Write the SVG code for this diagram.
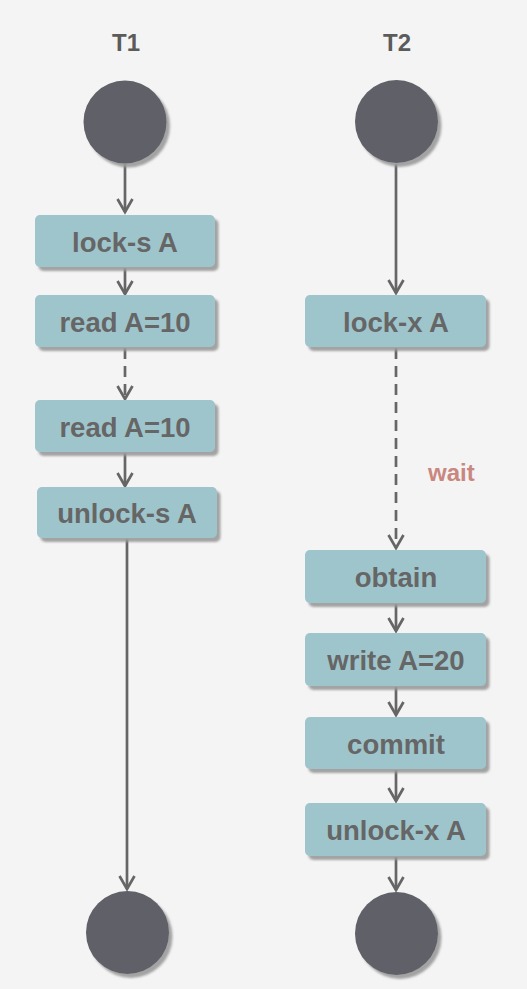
<svg xmlns="http://www.w3.org/2000/svg" width="527" height="989" viewBox="0 0 527 989">
<defs>
<style>
.title{font-family:"Liberation Sans",Arial,sans-serif;font-weight:bold;font-size:24px;fill:#5b5b5b;text-anchor:middle}
.box rect{fill:#9fc5cc;filter:url(#sh)}
.box text{font-family:"Liberation Sans",Arial,sans-serif;font-weight:bold;font-size:27.5px;fill:#666;text-anchor:middle}
.dot{fill:#5e6168;filter:url(#sh)}
.ln{stroke:#666;stroke-width:2.7;fill:none;marker-end:url(#arr)}
.dash{stroke-dasharray:11 7}
.lbl{font-family:"Liberation Sans",Arial,sans-serif;font-weight:bold;font-size:24px;fill:#c9877f}
</style>
<filter id="sh" x="-20%" y="-20%" width="140%" height="150%">
<feDropShadow dx="3.5" dy="4" stdDeviation="1.2" flood-color="#9a9a9a" flood-opacity="0.9"/>
</filter>
<marker id="arr" markerUnits="userSpaceOnUse" markerWidth="20" markerHeight="20" viewBox="-16 -10 20 20" refX="0" refY="0" orient="auto" overflow="visible">
<path d="M-13,-7.5 L0,0 L-13,7.5" fill="none" stroke="#666" stroke-width="2.7" stroke-linejoin="miter"/>
</marker>
</defs>
<rect width="527" height="989" fill="#f4f4f4"/>
<text class="title" x="126" y="51">T1</text>
<text class="title" x="397" y="51">T2</text>
<g id="connectors">
<line class="ln" x1="125" y1="164" x2="125" y2="212"/>
<line class="ln" x1="125" y1="268" x2="125" y2="294"/>
<line class="ln dash" x1="125" y1="348" x2="125" y2="399"/>
<line class="ln" x1="125" y1="453" x2="125" y2="486"/>
<line class="ln" x1="127" y1="539" x2="127" y2="889"/>
<line class="ln" x1="396" y1="164" x2="396" y2="293"/>
<line class="ln dash" x1="396" y1="348" x2="396" y2="548"/>
<line class="ln" x1="396" y1="604" x2="396" y2="631"/>
<line class="ln" x1="396" y1="687" x2="396" y2="715"/>
<line class="ln" x1="396" y1="770" x2="396" y2="801"/>
<line class="ln" x1="396" y1="857" x2="396" y2="890"/>
<text class="lbl" x="428" y="481">wait</text>
</g>
<g id="t1-start"><circle class="dot" cx="125" cy="122" r="41.5"/></g>
<g id="t1-lock-s" class="box"><rect x="35" y="215" width="180" height="52" rx="5"/><text x="125" y="252">lock-s A</text></g>
<g id="t1-read1" class="box"><rect x="35" y="295" width="180" height="52" rx="5"/><text x="125" y="332">read A=10</text></g>
<g id="t1-read2" class="box"><rect x="35" y="400" width="180" height="52" rx="5"/><text x="125" y="437">read A=10</text></g>
<g id="t1-unlock-s" class="box"><rect x="37" y="487" width="180" height="51" rx="5"/><text x="127" y="523">unlock-s A</text></g>
<g id="t1-end"><circle class="dot" cx="127.5" cy="932.5" r="41.5"/></g>
<g id="t2-start"><circle class="dot" cx="396.5" cy="121.5" r="41.5"/></g>
<g id="t2-lock-x" class="box"><rect x="305" y="295" width="181" height="52" rx="5"/><text x="396" y="332">lock-x A</text></g>
<g id="t2-obtain" class="box"><rect x="305" y="550" width="181" height="53" rx="5"/><text x="396" y="587">obtain</text></g>
<g id="t2-write" class="box"><rect x="305" y="633" width="181" height="53" rx="5"/><text x="396" y="670">write A=20</text></g>
<g id="t2-commit" class="box"><rect x="305" y="717" width="181" height="52" rx="5"/><text x="396" y="754">commit</text></g>
<g id="t2-unlock-x" class="box"><rect x="305" y="803" width="181" height="53" rx="5"/><text x="396" y="840">unlock-x A</text></g>
<g id="t2-end"><circle class="dot" cx="396.5" cy="933.5" r="41.5"/></g>
</svg>
